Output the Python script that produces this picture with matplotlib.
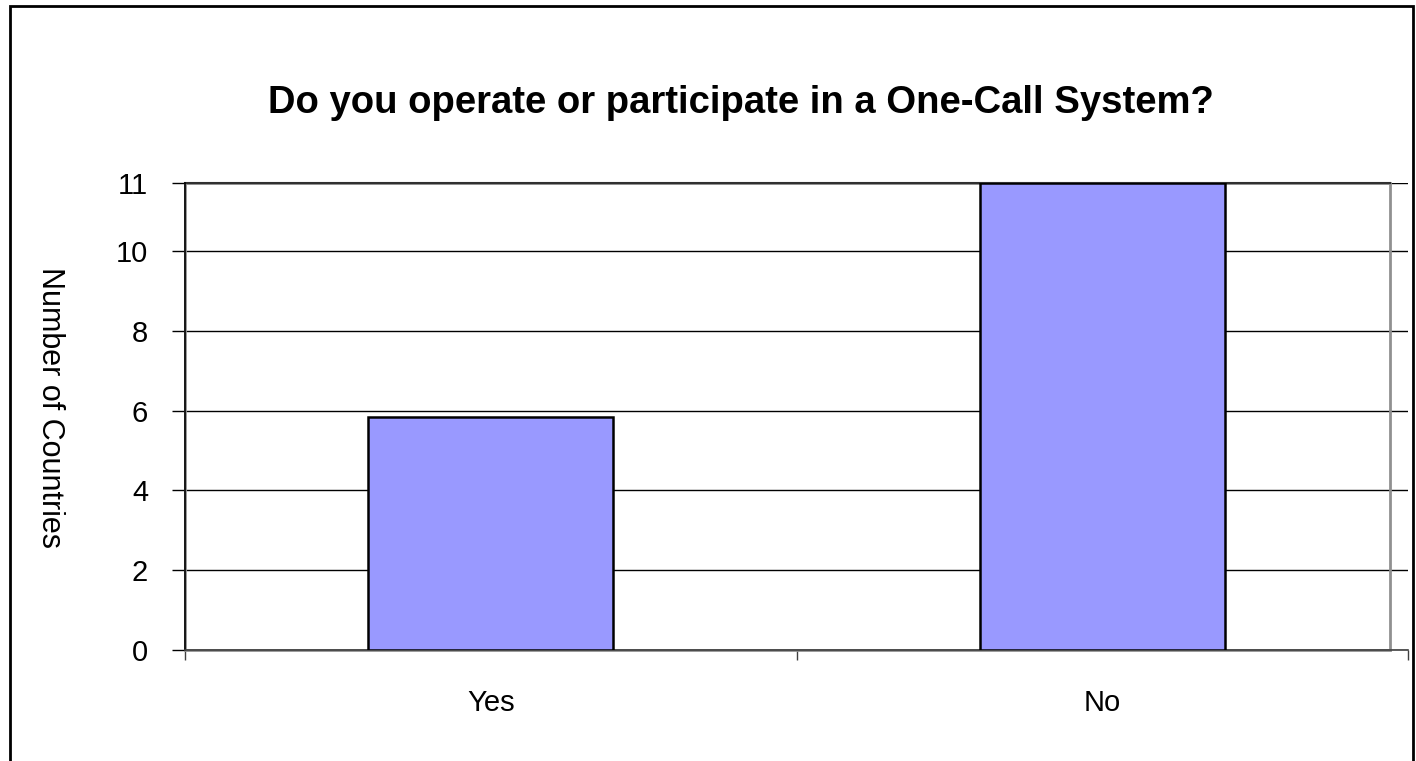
import matplotlib
matplotlib.use('Agg')
import matplotlib.pyplot as plt
import numpy as np
from matplotlib.patches import Rectangle

categories = ['Yes', 'No']
counts = [5.85, 11]
y_ticks = [0, 2, 4, 6, 8, 10, 11]

plt.rcParams['font.family'] = ['Liberation Sans', 'DejaVu Sans']


# the source chart stretches the last step (10 -> 11) of the value axis
def _fwd(y):
    y = np.asarray(y, dtype=float)
    return np.where(y <= 10, y, 10 + (y - 10) * 1.7)


def _inv(y):
    y = np.asarray(y, dtype=float)
    return np.where(y <= 10, y, 10 + (y - 10) / 1.7)


fig = plt.figure(figsize=(14.16, 7.61), dpi=100)
ax = fig.add_axes([185 / 1416, 1 - 650 / 761, (1408 - 185) / 1416, (650 - 183) / 761])

ax.set_yscale('function', functions=(_fwd, _inv))
ax.set_ylim(0, 11)
ax.set_xlim(-0.5, 1.5)

ax.set_axisbelow(True)
ax.grid(axis='y', color='black', linewidth=1)
ax.bar(range(len(categories)), counts, width=0.4, color='#9999FF',
       edgecolor='black', linewidth=1.8, zorder=3)

ax.set_yticks(y_ticks)
ax.set_yticklabels([str(t) for t in y_ticks], fontsize=21)
ax.tick_params(axis='y', direction='out', length=9.5, width=1, pad=17)

ax.set_xticks(range(len(categories)))
ax.set_xticklabels(categories, fontsize=21)
ax.tick_params(axis='x', which='major', length=0, pad=28)
ax.set_xticks([-0.5, 0.5, 1.5], minor=True)
ax.tick_params(axis='x', which='minor', direction='out', length=7.5, width=1, color='#404040')

for s in ['top', 'right']:
    ax.spines[s].set_visible(False)
ax.spines['left'].set_linewidth(1.2)
ax.spines['bottom'].set_linewidth(1.2)
ax.spines['bottom'].set_color('#404040')

# plot area frame
ax.add_patch(Rectangle((0, 0), (1390 - 185) / (1408 - 185), 1, transform=ax.transAxes,
                       fill=False, edgecolor='#909090', linewidth=2, zorder=1, clip_on=False))
ax.plot([0, (1390 - 185) / (1408 - 185)], [1, 1], transform=ax.transAxes,
        color='#303030', linewidth=1.5, clip_on=False, zorder=2)

ax.set_ylabel('Number of Countries', fontsize=22, rotation=-90)
ax.yaxis.set_label_coords(-150 / 1223, 0.52)

fig.text(741 / 1416, 1 - 103 / 761, 'Do you operate or participate in a One-Call System?',
         ha='center', va='center', fontsize=27.5, fontweight='bold')

# chart area border
fig.patches.append(Rectangle((10 / 1416, -0.05), (1413 - 10) / 1416, 1.05 - 6 / 761,
                             transform=fig.transFigure, fill=False, edgecolor='black',
                             linewidth=2))

fig.savefig('out.png', dpi=100)
